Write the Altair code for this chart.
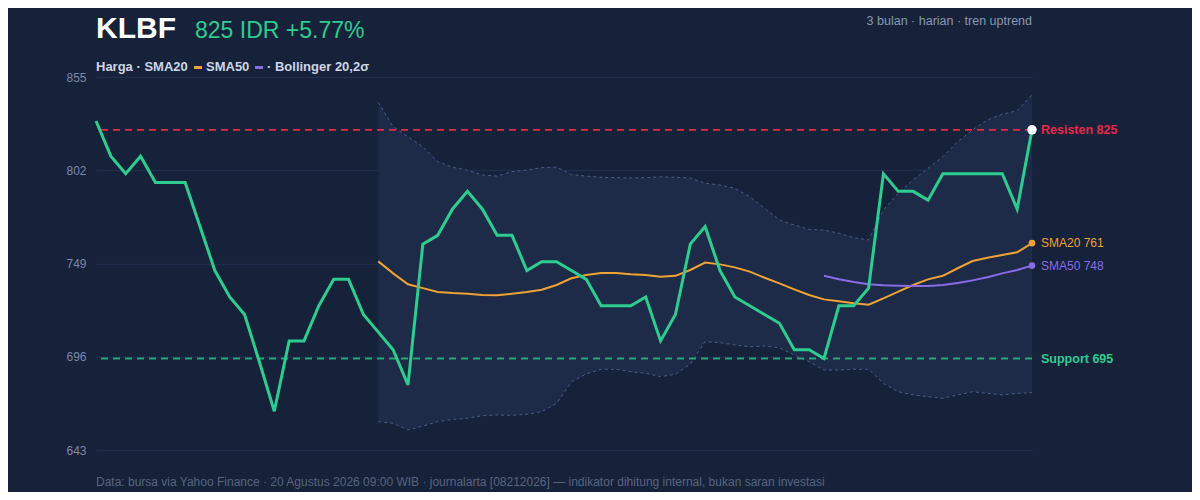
import altair as alt
import pandas as pd

# harga penutupan harian KLBF, 64 hari bursa
price = [830, 810, 800, 810, 795, 795, 795, 770, 745, 730,
         720, 693, 665, 705, 705, 725, 740, 740, 720, 710,
         700, 680, 760, 765, 780, 790, 780, 765, 765, 745,
         750, 750, 745, 740, 725, 725, 725, 730, 705, 720,
         760, 770, 745, 730, 725, 720, 715, 700, 700, 695,
         725, 725, 735, 800, 790, 790, 785, 800, 800, 800,
         800, 800, 780, 825]

# SMA20 dan Bollinger mulai hari ke-19, SMA50 mulai hari ke-49
sma20 = [750.2, 743.4, 737.2, 735.0, 732.8, 732.2, 731.8, 731.1, 730.9, 731.8,
         732.8, 734.1, 736.8, 740.6, 742.5, 743.6, 743.6, 742.9, 742.5, 741.5,
         742.0, 745.3, 749.5, 748.5, 746.8, 744.4, 740.9, 737.7, 734.3, 731.1,
         728.6, 727.5, 726.4, 725.6, 729.2, 733.0, 736.8, 740.0, 742.0, 746.3,
         750.4, 752.3, 753.8, 755.4, 760.6]
sma50 = [742.0, 740.0, 738.5, 737.2, 736.6, 736.4, 736.2, 736.2, 736.8, 737.9,
         739.4, 741.2, 743.4, 745.3, 747.8]
bb_upper = [840.6, 826.8, 821.1, 815.4, 806.9, 803.7, 802.1, 799.3, 798.7, 801.2,
            802.1, 803.5, 803.8, 799.5, 798.7, 798.0, 797.8, 797.6, 797.8, 798.3,
            798.0, 797.6, 794.6, 793.6, 791.7, 787.0, 780.4, 773.7, 770.9, 768.4,
            768.0, 766.2, 763.7, 762.4, 779.4, 788.9, 796.5, 803.1, 809.7, 818.2,
            824.9, 830.6, 833.8, 835.9, 844.8]
bb_lower = [659.1, 658.2, 654.4, 656.6, 659.1, 660.4, 661.0, 662.5, 662.9, 662.7,
            663.3, 664.8, 669.5, 681.8, 686.2, 688.9, 688.9, 687.5, 686.6, 684.7,
            686.0, 691.9, 704.6, 704.0, 702.7, 701.7, 702.1, 701.1, 697.0, 693.2,
            688.5, 688.5, 688.9, 688.9, 680.9, 676.1, 674.3, 673.3, 672.4, 674.3,
            676.1, 675.2, 674.3, 675.2, 675.6]

resisten = 825
support = 695
y_ticks = [643, 696, 749, 802, 855]

BG = "#16213a"
GREEN = "#2ecc8e"
RED = "#e8284b"
ORANGE = "#f0a232"
PURPLE = "#8a6ce8"
FONT = "Liberation Sans"

W, H = 936, 373
n = len(price)
idx = list(range(n))

price_df = pd.DataFrame({"i": idx, "v": price})
band_df = pd.DataFrame({"i": idx[19:], "upper": bb_upper, "lower": bb_lower})
sma20_df = pd.DataFrame({"i": idx[19:], "v": sma20})
sma50_df = pd.DataFrame({"i": idx[49:], "v": sma50})

x_enc = alt.X("i:Q", scale=alt.Scale(domain=[0, n - 1], nice=False, zero=False), axis=None)
y_scale = alt.Scale(domain=[y_ticks[0], y_ticks[-1]], nice=False, zero=False)


def y_enc(field):
    return alt.Y(f"{field}:Q", scale=y_scale, title=None)


band = alt.Chart(band_df).mark_area(color="#1d2b48").encode(
    x=x_enc,
    y=alt.Y("upper:Q", scale=y_scale, title=None,
            axis=alt.Axis(values=y_ticks, grid=True, gridColor="#212e4b", gridWidth=1.5,
                          domain=False, ticks=False, labelPadding=10, labelFontSize=12,
                          labelColor="#7a89a6", labelFont=FONT)),
    y2="lower:Q",
)
band_edges = [
    alt.Chart(band_df).mark_line(color="#4a5e8a", strokeWidth=1, strokeDash=[3, 3]).encode(
        x=x_enc, y=y_enc(col))
    for col in ["upper", "lower"]
]

levels = pd.DataFrame({"v": [resisten, support]})
res_rule = alt.Chart(levels.iloc[[0]]).mark_rule(
    color=RED, strokeWidth=1.8, strokeDash=[7, 5]).encode(y=y_enc("v"))
sup_rule = alt.Chart(levels.iloc[[1]]).mark_rule(
    color="#23a87a", strokeWidth=1.8, strokeDash=[7, 5]).encode(y=y_enc("v"))

sma20_line = alt.Chart(sma20_df).mark_line(color=ORANGE, strokeWidth=2).encode(x=x_enc, y=y_enc("v"))
sma50_line = alt.Chart(sma50_df).mark_line(color=PURPLE, strokeWidth=2).encode(x=x_enc, y=y_enc("v"))
price_line = alt.Chart(price_df).mark_line(color=GREEN, strokeWidth=3).encode(x=x_enc, y=y_enc("v"))

sma20_dot = alt.Chart(sma20_df.tail(1)).mark_circle(color=ORANGE, size=45, opacity=1).encode(
    x=x_enc, y=y_enc("v"))
sma50_dot = alt.Chart(sma50_df.tail(1)).mark_circle(color=PURPLE, size=45, opacity=1).encode(
    x=x_enc, y=y_enc("v"))
last_dot = alt.Chart(price_df.tail(1)).mark_circle(color="#ffffff", size=90, opacity=1).encode(
    x=x_enc, y=y_enc("v"))


def end_label(value, text, color, bold):
    df = pd.DataFrame({"i": [n - 1], "v": [value], "t": [text]})
    return alt.Chart(df).mark_text(
        align="left", baseline="middle", dx=9, font=FONT, color=color,
        fontSize=12.5 if bold else 12, fontWeight="bold" if bold else "normal",
    ).encode(x=x_enc, y=y_enc("v"), text="t:N")


labels = [
    end_label(resisten, f"Resisten {resisten}", RED, True),
    end_label(sma20[-1], f"SMA20 {sma20[-1]:.0f}", ORANGE, False),
    end_label(sma50[-1], f"SMA50 {sma50[-1]:.0f}", PURPLE, False),
    end_label(support, f"Support {support}", GREEN, True),
]


def note(text, x, y, **kw):
    style = dict(align="left", baseline="alphabetic", font=FONT)
    style.update(kw)
    return alt.Chart(pd.DataFrame({"t": [text]})).mark_text(**style).encode(
        x=alt.value(x), y=alt.value(y), text="t:N")


def legend_dash(x, color):
    return alt.Chart(pd.DataFrame({"c": [color]})).mark_rule(color=color, strokeWidth=3).encode(
        x=alt.value(x), x2=alt.value(x + 8), y=alt.value(-9.5))


pct = (price[-1] / price[-2] - 1) * 100
notes = [
    note("KLBF", 0, -39, fontSize=30, fontWeight="bold", color="#ffffff"),
    note(f"{price[-1]} IDR +{pct:.2f}%", 99, -39, fontSize=23, color=GREEN),
    note("3 bulan · harian · tren uptrend", W, -56, align="right", baseline="middle",
         fontSize=12.5, color="#8a98b2"),
    note("Harga · SMA20", 0, -6, fontSize=13, fontWeight="bold", color="#cdd6e4"),
    legend_dash(98, ORANGE),
    note("SMA50", 110, -6, fontSize=13, fontWeight="bold", color="#cdd6e4"),
    legend_dash(159, PURPLE),
    note("· Bollinger 20,2σ", 171, -6, fontSize=13, fontWeight="bold", color="#cdd6e4"),
    note("Data: bursa via Yahoo Finance · 20 Agustus 2026 09:00 WIB · journalarta [08212026]"
         " — indikator dihitung internal, bukan saran investasi",
         0, 405, baseline="middle", fontSize=12, color="#56657f"),
]

chart = alt.layer(
    band, *band_edges, res_rule, sup_rule, sma20_line, sma50_line, price_line,
    sma20_dot, sma50_dot, last_dot, *labels, *notes,
).properties(
    width=W, height=H,
    autosize=alt.AutoSizeParams(type="none"),
    padding={"left": 88, "top": 69, "right": 160, "bottom": 42},
    background=BG,
).configure_view(stroke=None)

chart.save("out.html", embed_options={"renderer": "svg", "actions": False})
